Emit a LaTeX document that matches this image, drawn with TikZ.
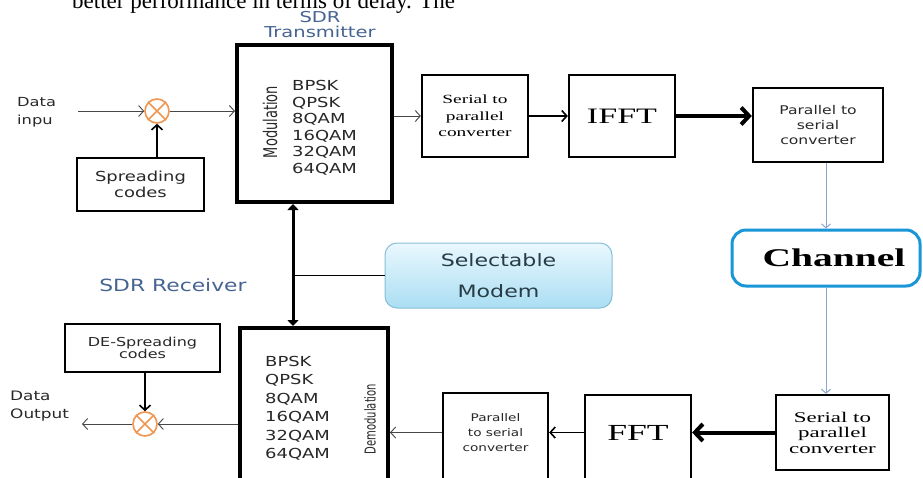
\documentclass[tikz,border=0pt]{standalone}
\usepackage{fontspec}
\setmainfont{DejaVu Sans}
\newfontfamily\sw[FakeStretch=1.3]{DejaVu Sans}
\newfontfamily\sn{DejaVu Sans}
\newfontfamily\rw[FakeStretch=1.55]{Liberation Serif}
\newfontfamily\rn{Liberation Serif}
\usetikzlibrary{arrows.meta,shapes.geometric}
\definecolor{thin}{RGB}{70,70,70}
\definecolor{chblue}{RGB}{25,150,215}
\definecolor{conn}{RGB}{140,165,205}
\definecolor{orng}{RGB}{240,150,80}
\definecolor{sdrtxt}{RGB}{70,100,145}
\definecolor{modtop}{RGB}{234,248,253}
\definecolor{modbot}{RGB}{170,222,243}
\definecolor{modbd}{RGB}{135,190,215}
\definecolor{modtxt}{RGB}{40,60,70}
\definecolor{lsttxt}{RGB}{40,40,40}
\tikzset{
  box/.style={draw, line width=2.3, inner sep=0, align=center},
  heavybox/.style={draw, line width=4, inner sep=0, align=center},
  mixer/.style={circle, draw=orng, line width=1.6, minimum size=24, inner sep=0},
  thinarr/.style={draw=thin, line width=0.9, -{Straight Barb[length=5pt,width=11pt]}},
  medarr/.style={draw=black, line width=1.6, -{Straight Barb[length=5pt,width=11pt]}},
  bigarr/.style={draw=black, line width=4, -{Straight Barb[length=8pt,width=17pt]}},
  connarr/.style={draw=conn, line width=1, -{Straight Barb[length=4pt,width=9pt]}},
  lst/.style={anchor=north west, align=left, inner sep=0, text=lsttxt},
}
\begin{document}
\begin{tikzpicture}[x=1pt,y=-1pt]
\useasboundingbox (0,0) rectangle (923,477);
\fill[white] (0,0) rectangle (923,477);

% partial text line at the very top (cut by the page edge, as in the reference)
\node[anchor=base west, inner sep=0, font=\rn\fontsize{23}{26}\selectfont] (toptext) at (72,8) {better performance in terms of delay. The};

% ---------- transmitter ----------
\node[font=\sw\fontsize{15}{15}\selectfont, text=sdrtxt, align=center, inner sep=0] (sdrtx) at (320,25) {SDR\\Transmitter};
\node[heavybox, minimum width=155, minimum height=157] (mod) at (314.5,123.5) {};
\node[rotate=90, inner sep=0, font=\sn\fontsize{13}{13}\selectfont, text=lsttxt] (modlbl) at (270,122) {\scalebox{1}[1.45]{Modulation}};
\node[lst, font=\sw\fontsize{13.8}{16.6}\selectfont] (modlist) at (292,80) {BPSK\\QPSK\\8QAM\\16QAM\\32QAM\\64QAM};

\node[align=left, anchor=west, inner sep=0, text=lsttxt, font=\sw\fontsize{12.5}{18}\selectfont] (din) at (17,112) {Data\\inpu};
\coordinate (dinend) at (78,111);
\node[mixer] (c1) at (157,111) {};
\draw[orng, line width=1.6] (c1.north east) -- (c1.south west) (c1.north west) -- (c1.south east);
\node[box, minimum width=127, minimum height=53, font=\sw\fontsize{13.8}{16}\selectfont, text=lsttxt] (spread) at (140.5,184.5) {Spreading\\codes};

\node[box, minimum width=106, minimum height=82, font=\rw\fontsize{12.5}{16.5}\selectfont] (s2p1) at (475,116) {Serial to\\parallel\\converter};
\node[box, minimum width=106, minimum height=82, font=\rw\fontsize{22}{22}\selectfont] (ifft) at (622,116) {IFFT};
\node[box, minimum width=130, minimum height=74, font=\sw\fontsize{12}{15}\selectfont, text=lsttxt] (p2s1) at (818,125) {Parallel to\\serial\\converter};

\draw[thinarr] (dinend) -- (c1.west);
\draw[thinarr] (c1.east) -- (mod.west |- c1.east);
\draw[medarr] (spread.north -| c1.south) -- (c1.south);
\draw[thinarr] (mod.east |- s2p1.west) -- (s2p1.west);
\draw[medarr] (s2p1.east) -- (ifft.west);
\draw[bigarr] (ifft.east) -- (p2s1.west |- ifft.east);

% ---------- channel ----------
\node[draw=chblue, line width=3, rounded corners=14, minimum width=188, minimum height=56, inner sep=0] (chan) at (826,258) {};
\node[inner sep=0, font=\rw\bfseries\fontsize{25.5}{25.5}\selectfont] (chant) at (834,258) {Channel};
\draw[connarr] (p2s1.south -| chan.north) -- (chan.north);

% ---------- selectable modem ----------
\node[draw=modbd, line width=1, rounded corners=12, top color=modtop, bottom color=modbot, minimum width=227, minimum height=65, inner sep=0, align=center, text=modtxt, font=\sw\fontsize{17}{31}\selectfont] (modem) at (498.5,275.5) {Selectable\\Modem};

% ---------- receiver ----------
\node[font=\sw\fontsize{16.8}{17}\selectfont, text=sdrtxt, inner sep=0] (sdrrx) at (173,285) {SDR Receiver};
\node[box, minimum width=113, minimum height=75, font=\rw\fontsize{14.8}{15.5}\selectfont] (s2p2) at (832.5,432.5) {Serial to\\parallel\\converter};
\node[box, minimum width=106, minimum height=85] (fft) at (638,437.5) {};
\node[inner sep=0, font=\rw\fontsize{23}{23}\selectfont] (fftt) at (638,433) {FFT};
\node[box, minimum width=105, minimum height=87] (p2s2) at (495.5,436.5) {};
\node[inner sep=0, align=center, text=lsttxt, font=\sw\fontsize{10.5}{15}\selectfont] (p2s2t) at (495.5,433) {Parallel\\to serial\\converter};
\node[heavybox, minimum width=148, minimum height=162] (demod) at (314,409) {};
\node[lst, font=\sw\fontsize{13.8}{18.4}\selectfont] (demodlist) at (265,356) {BPSK\\QPSK\\8QAM\\16QAM\\32QAM\\64QAM};
\node[rotate=90, inner sep=0, font=\sn\fontsize{10}{10}\selectfont, text=lsttxt] (demodlbl) at (370,419) {\scalebox{1}[1.5]{Demodulation}};

\node[box, minimum width=155, minimum height=48, font=\sw\fontsize{12.3}{12.5}\selectfont, text=lsttxt] (despread) at (142.5,348) {DE-Spreading\\codes};
\node[mixer] (c2) at (145,424) {};
\draw[orng, line width=1.6] (c2.north east) -- (c2.south west) (c2.north west) -- (c2.south east);
\node[align=left, anchor=west, inner sep=0, text=lsttxt, font=\sw\fontsize{13}{18}\selectfont] (dout) at (10,406) {Data\\Output};
\coordinate (doutend) at (82,424);

\draw[connarr] (chan.south) -- (s2p2.north -| chan.south);
\draw[bigarr] (s2p2.west) -- (fft.east |- s2p2.west);
\draw[medarr] (fft.west |- s2p2.west) -- (p2s2.east |- s2p2.west);
\draw[thinarr] (p2s2.west |- s2p2.west) -- (demod.east |- s2p2.west);
\draw[thinarr] (demod.west |- c2.east) -- (c2.east);
\draw[thinarr] (c2.west) -- (doutend);
\draw[medarr] (despread.south -| c2.north) -- (c2.north);

% ---------- mod / demod link ----------
\coordinate (vx) at (293,275.5);
\draw[line width=3, {Triangle[width=11pt,length=6pt]}-{Triangle[width=11pt,length=6pt]}] (mod.south -| vx) -- (demod.north -| vx);
\draw[line width=1.6] (vx) -- (modem.west);
\end{tikzpicture}
\end{document}
